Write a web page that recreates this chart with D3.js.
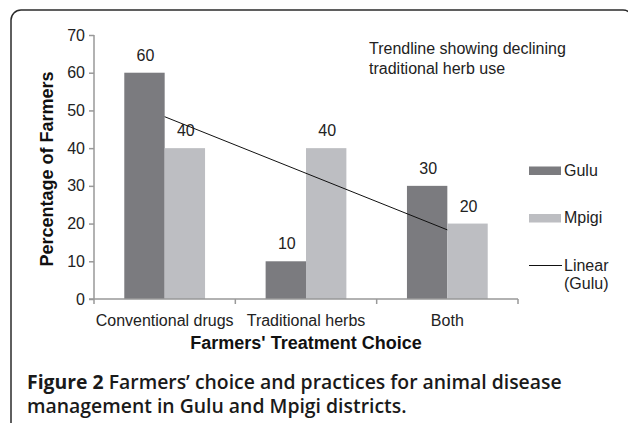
<!DOCTYPE html>
<html>
<head>
<meta charset="utf-8">
<script src="https://cdn.jsdelivr.net/npm/d3@7"></script>
<style>
  html, body { margin: 0; padding: 0; background: #fff; }
  svg { display: block; }
</style>
</head>
<body>
<svg id="chart" width="628" height="423"></svg>
<script>
// Treatment categories and district series (percentage of farmers)
const categories = ["Conventional drugs", "Traditional herbs", "Both"];
const seriesNames = ["Gulu", "Mpigi"];
const gulu = [60, 10, 30];
const mpigi = [40, 40, 20];
const yTicks = [0, 10, 20, 30, 40, 50, 60, 70];
const colors = { Gulu: "#7b7b7f", Mpigi: "#bdbec2" };

const svg = d3.select("#chart");
const font = "'Liberation Sans', Arial, sans-serif";
const fs = 16;

// Panel border (rounded frame, open toward bottom/right)
svg.append("rect")
  .attr("x", 11).attr("y", 10)
  .attr("width", 622).attr("height", 480)
  .attr("rx", 10).attr("ry", 10)
  .attr("fill", "none").attr("stroke", "#2b2b2b").attr("stroke-width", 1.5);

const plot = { left: 94, right: 518, top: 35, bottom: 299 };

const x = d3.scaleBand().domain(categories).range([plot.left, plot.right]).paddingInner(0).paddingOuter(0);
const y = d3.scaleLinear().domain([0, 70]).range([plot.bottom, plot.top]);

// Bars: gap width 150% of bar width
const barW = x.bandwidth() / 3.5;
const rows = categories.map((c, i) => ({ cat: c, Gulu: gulu[i], Mpigi: mpigi[i] }));

const g = svg.append("g");
rows.forEach(r => {
  seriesNames.forEach((s, j) => {
    const bx = x(r.cat) + x.bandwidth() / 2 - barW + j * barW;
    g.append("rect")
      .attr("x", bx).attr("y", y(r[s]))
      .attr("width", barW).attr("height", y(0) - y(r[s]))
      .attr("fill", colors[s]);
    g.append("text")
      .attr("x", bx + barW / 2 + 1).attr("y", y(r[s]) - 12)
      .attr("text-anchor", "middle")
      .attr("font-family", font).attr("font-size", fs).attr("fill", "#222")
      .text(r[s]);
  });
});

// Y axis
const yAxis = d3.axisLeft(y).tickValues(yTicks).tickSize(5).tickPadding(4);
const ya = svg.append("g").attr("transform", `translate(${plot.left},0)`).call(yAxis);
ya.select(".domain").attr("stroke", "#999").attr("stroke-width", 1.5)
  .attr("d", `M0,${plot.top}V${plot.bottom}`);
ya.selectAll(".tick line").attr("stroke", "#999").attr("stroke-width", 1.5);
ya.selectAll(".tick text").attr("font-family", font).attr("font-size", fs).attr("fill", "#222");

// X axis with tick marks at category boundaries
const xa = svg.append("g").attr("transform", `translate(0,${plot.bottom})`);
xa.append("line").attr("x1", plot.left - 5).attr("x2", plot.right)
  .attr("stroke", "#999").attr("stroke-width", 1.5);
const bounds = categories.map(c => x(c)).concat([x(categories[categories.length - 1]) + x.bandwidth()]);
xa.selectAll(".xt").data(bounds).join("line")
  .attr("x1", d => d).attr("x2", d => d).attr("y1", 0).attr("y2", 5)
  .attr("stroke", "#999").attr("stroke-width", 1.5);
xa.selectAll(".xl").data(categories).join("text")
  .attr("x", d => x(d) + x.bandwidth() / 2).attr("y", 27)
  .attr("text-anchor", "middle")
  .attr("font-family", font).attr("font-size", fs).attr("fill", "#222")
  .text(d => d);

// Linear trendline fitted to Gulu values
const xs = gulu.map((_, i) => i + 1);
const mx = d3.mean(xs), my = d3.mean(gulu);
const slope = d3.sum(xs, (xi, i) => (xi - mx) * (gulu[i] - my)) / d3.sum(xs, xi => (xi - mx) ** 2);
const intercept = my - slope * mx;
const trend = [1, categories.length].map(k => ({ cx: x(categories[k - 1]) + x.bandwidth() / 2, v: intercept + slope * k }));
svg.append("path")
  .attr("d", d3.line().x(d => d.cx).y(d => y(d.v))(trend))
  .attr("stroke", "#111").attr("stroke-width", 1).attr("fill", "none");

// Annotation
const ann = svg.append("text").attr("font-family", font).attr("font-size", fs).attr("fill", "#222");
ann.append("tspan").attr("x", 369).attr("y", 54).text("Trendline showing declining");
ann.append("tspan").attr("x", 369).attr("y", 74).text("traditional herb use");

// Legend
const lg = svg.append("g").attr("font-family", font).attr("font-size", fs).attr("fill", "#222");
lg.append("rect").attr("x", 529).attr("y", 166.5).attr("width", 32).attr("height", 8.5).attr("fill", colors.Gulu);
lg.append("text").attr("x", 564).attr("y", 176).text("Gulu");
lg.append("rect").attr("x", 529).attr("y", 214).attr("width", 32).attr("height", 8.5).attr("fill", colors.Mpigi);
lg.append("text").attr("x", 564).attr("y", 223).text("Mpigi");
lg.append("line").attr("x1", 529).attr("x2", 562).attr("y1", 265.5).attr("y2", 265.5)
  .attr("stroke", "#111").attr("stroke-width", 1);
lg.append("text").attr("x", 564).attr("y", 271).text("Linear");
lg.append("text").attr("x", 564).attr("y", 289).text("(Gulu)");

// Axis titles
svg.append("text")
  .attr("transform", `translate(53,169) rotate(-90)`)
  .attr("text-anchor", "middle")
  .attr("font-family", font).attr("font-size", 18).attr("font-weight", "bold").attr("fill", "#111")
  .text("Percentage of Farmers");
svg.append("text")
  .attr("x", (plot.left + plot.right) / 2).attr("y", 349)
  .attr("text-anchor", "middle")
  .attr("font-family", font).attr("font-size", 18).attr("font-weight", "bold").attr("fill", "#111")
  .text("Farmers' Treatment Choice");

// Figure caption
const cap = svg.append("text")
  .attr("font-family", "'Open Sans', 'Noto Sans', sans-serif").attr("font-size", 19.4)
  .attr("font-weight", 600).attr("fill", "#1a1a1a");
const l1 = cap.append("tspan").attr("x", 27).attr("y", 389);
l1.append("tspan").attr("font-weight", 700).text("Figure 2");
l1.append("tspan").text(" Farmers\u2019 choice and practices for animal disease");
cap.append("tspan").attr("x", 27).attr("y", 413).text("management in Gulu and Mpigi districts.");
</script>
</body>
</html>
